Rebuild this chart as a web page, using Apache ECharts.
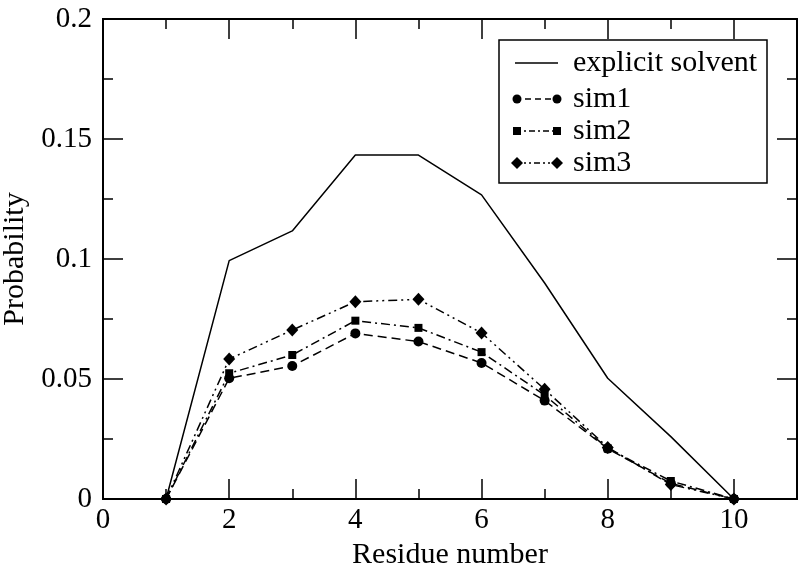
<!DOCTYPE html>
<html>
<head>
<meta charset="utf-8">
<script src="https://cdn.jsdelivr.net/npm/echarts@6/dist/echarts.min.js"></script>
<style>html,body{margin:0;padding:0;background:#fff}#c{width:802px;height:570px}</style>
</head>
<body>
<div id="c"></div>
<script>
var residues = [1, 2, 3, 4, 5, 6, 7, 8, 9, 10];
var explicitSolvent = [0, 0.0993, 0.1117, 0.1433, 0.1433, 0.1267, 0.0900, 0.0503, 0.0260, 0];
var sim1 = [0, 0.0503, 0.0554, 0.0690, 0.0656, 0.0567, 0.0410, 0.0210, 0.0065, 0];
var sim2 = [0, 0.0524, 0.0600, 0.0743, 0.0713, 0.0612, 0.0433, 0.0211, 0.0075, 0];
var sim3 = [0, 0.0583, 0.0704, 0.0822, 0.0832, 0.0692, 0.0457, 0.0215, 0.0060, 0];
var seriesNames = ['explicit solvent', 'sim1', 'sim2', 'sim3'];
var xTitle = 'Residue number';
var yTitle = 'Probability';

var FONT = '"Liberation Serif", "DejaVu Serif", serif';
var FS_TICK = 29;
var FS_TEXT = 30;
function pairs(ys) { return residues.map(function (x, i) { return [x, ys[i]]; }); }

var dashS1 = [9, 5];
var dashS2 = [9, 4, 2, 4];
var dashS3 = [9, 4, 2, 4, 2, 4];

var chart = echarts.init(document.getElementById('c'), null, { renderer: 'canvas' });

function xAx(pos, interval, len, labels) {
  return {
    type: 'value', position: pos, min: 0, max: 11, interval: interval,
    axisLine: { show: true, onZero: false, lineStyle: { color: '#000', width: 2 } },
    axisTick: { show: true, inside: true, length: len, lineStyle: { color: '#000', width: 1.5 } },
    axisLabel: labels ? {
      show: true, color: '#000', fontFamily: FONT, fontSize: FS_TICK, margin: 7,
      formatter: function (v) { return (v % 2 === 0 && v <= 10) ? String(v) : ''; }
    } : { show: false },
    splitLine: { show: false },
    name: labels ? xTitle : '', nameLocation: 'middle', nameGap: 36,
    nameTextStyle: { color: '#000', fontFamily: FONT, fontSize: FS_TEXT }
  };
}
function yAx(pos, labels) {
  return {
    type: 'value', position: pos, min: 0, max: 0.2, interval: 0.05,
    axisLine: { show: true, onZero: false, lineStyle: { color: '#000', width: 2 } },
    axisTick: { show: true, inside: true, length: 20, lineStyle: { color: '#000', width: 1.5 } },
    minorTick: { show: true, splitNumber: 2, length: 10, lineStyle: { color: '#000', width: 1.5 } },
    axisLabel: labels ? { show: true, color: '#000', fontFamily: FONT, fontSize: FS_TICK, margin: 11 } : { show: false },
    splitLine: { show: false },
    name: labels ? yTitle : '', nameLocation: 'middle', nameGap: 68,
    nameTextStyle: { color: '#000', fontFamily: FONT, fontSize: FS_TEXT }
  };
}

var legendTop = 40, legendLeft = 499, legendW = 268, legendH = 143;
var rowsY = [63, 99, 131, 163];
var syms = [null, 'circle', 'rect', 'diamond'];
var legendDash = [null, [6, 4], [6, 3, 2, 3], [6, 3, 2, 3, 2, 3]];
var legendChildren = [{
  type: 'rect', shape: { x: legendLeft, y: legendTop, width: legendW, height: legendH },
  style: { fill: '#fff', stroke: '#000', lineWidth: 1.5 }
}];
function symbolShape(kind, cx, cy) {
  if (kind === 'circle') return { type: 'circle', shape: { cx: cx, cy: cy, r: 4.5 }, style: { fill: '#000' } };
  if (kind === 'rect') return { type: 'rect', shape: { x: cx - 4, y: cy - 4, width: 8, height: 8 }, style: { fill: '#000' } };
  return { type: 'polygon', shape: { points: [[cx, cy - 6], [cx + 6, cy], [cx, cy + 6], [cx - 6, cy]] }, style: { fill: '#000' } };
}
for (var i = 0; i < 4; i++) {
  var y = rowsY[i];
  legendChildren.push({
    type: 'line', shape: { x1: 515, y1: y, x2: 558, y2: y },
    style: { stroke: '#000', lineWidth: 1.5, lineDash: legendDash[i] }
  });
  if (syms[i]) {
    legendChildren.push(symbolShape(syms[i], 517, y));
    legendChildren.push(symbolShape(syms[i], 557, y));
  }
  legendChildren.push({
    type: 'text', style: { x: 573, y: y, text: seriesNames[i], fill: '#000', font: FS_TEXT + 'px ' + FONT, verticalAlign: 'middle' }
  });
}

function lineSeries(name, data, dash, sym, size) {
  return {
    name: name, type: 'line', data: pairs(data), xAxisIndex: 0, yAxisIndex: 0,
    showSymbol: !!sym, symbol: sym || 'none', symbolSize: size,
    itemStyle: { color: '#000' },
    lineStyle: { color: '#000', width: 1.5, type: dash || 'solid' },
    animation: false, silent: true, z: 3
  };
}

chart.setOption({
  backgroundColor: '#fff',
  animation: false,
  grid: { left: 103, right: 5, top: 19, bottom: 71, containLabel: false, outerBoundsMode: 'none' },
  xAxis: [
    xAx('bottom', 1, 10, true),
    xAx('bottom', 2, 20, false),
    xAx('top', 1, 10, false),
    xAx('top', 2, 20, false)
  ],
  yAxis: [yAx('left', true), yAx('right', false)],
  series: [
    lineSeries(seriesNames[0], explicitSolvent, null, null, 0),
    lineSeries(seriesNames[1], sim1, dashS1, 'circle', 10),
    lineSeries(seriesNames[2], sim2, dashS2, 'rect', 8),
    lineSeries(seriesNames[3], sim3, dashS3, 'diamond', [12, 13])
  ],
  graphic: [{ type: 'group', z: 100, children: legendChildren }]
});
</script>
</body>
</html>
